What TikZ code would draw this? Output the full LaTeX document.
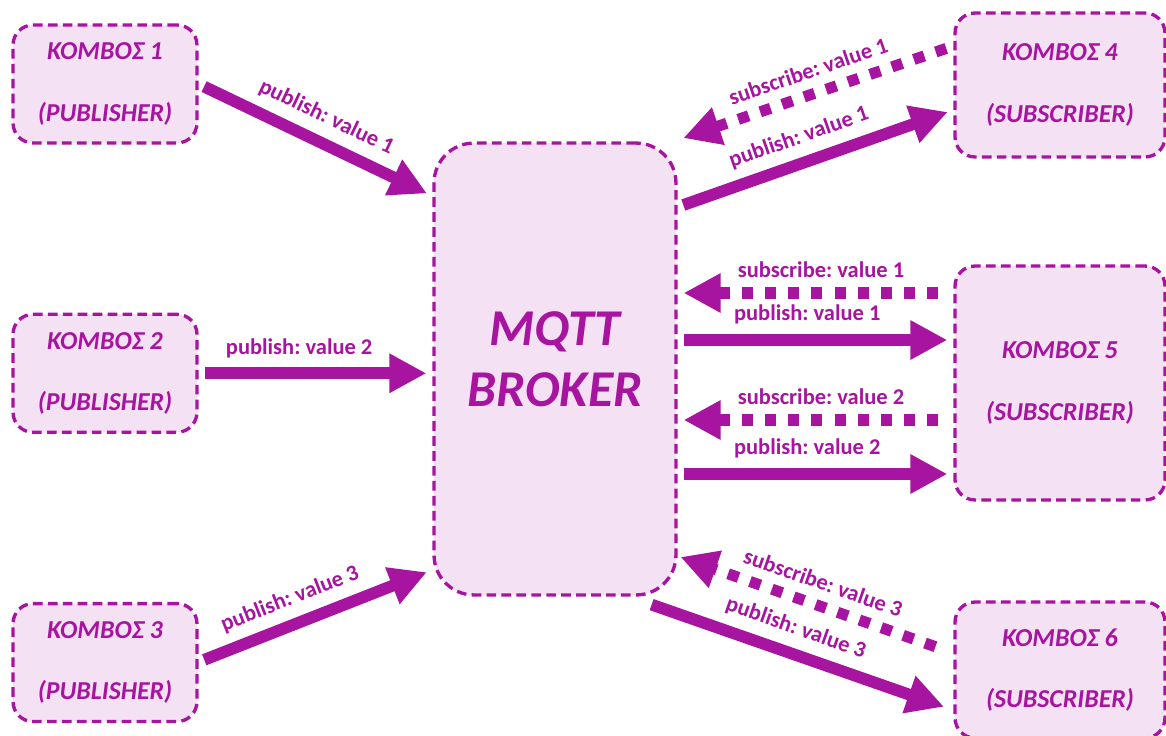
\documentclass[tikz,border=0pt]{standalone}
\usepackage{fontspec}
\setmainfont{Carlito}
\frenchspacing
\usetikzlibrary{arrows.meta,positioning}
\definecolor{mqpurple}{RGB}{167,20,160}
\definecolor{mqfill}{RGB}{245,225,244}
\tikzset{
    knot/.style={rectangle, rounded corners=0.4cm, draw=mqpurple, fill=mqfill,
        line width=1.9pt, dash pattern=on 5.5pt off 3pt, align=center,
        text=mqpurple, font=\bfseries\itshape\fontsize{14.7}{17}\selectfont,
        minimum width=3.68cm, minimum height=2.36cm},
    broker/.style={knot, rounded corners=0.8cm, minimum width=4.84cm, minimum height=9.04cm},
    brokertext/.style={align=center, text=mqpurple,
        font=\bfseries\itshape\fontsize{29.4}{35}\selectfont},
    pub/.style={draw=mqpurple, line width=6.7pt, -{Triangle[length=0.74cm,width=0.74cm]},
        shorten <=0.12cm, shorten >=0.12cm},
    sub/.style={pub, line width=6.3pt, dash pattern=on 6.3pt off 6.9pt, shorten <=0.3cm},
    lbl/.style={sloped, above=3.5pt, inner sep=2pt, text=mqpurple,
        font=\bfseries\fontsize{12.8}{15}\selectfont}
}
\begin{document}
\begin{tikzpicture}[x=0.02cm,y=-0.02cm]
    \useasboundingbox (0,0) rectangle (1166,735);

    % publishers on the left, broker in the middle, subscribers on the right
    \node[knot] (k1) at (105,84) {ΚΟΜΒΟΣ 1\\[18pt](PUBLISHER)};
    \node[knot, below=3.36cm of k1] (k2) {ΚΟΜΒΟΣ 2\\[18pt](PUBLISHER)};
    \node[knot, below=3.36cm of k2] (k3) {ΚΟΜΒΟΣ 3\\[18pt](PUBLISHER)};
    \node[broker] (mqtt) at (555,369) {};
    \node[brokertext] (mqtttext) at ([yshift=0.2cm]mqtt.center) {MQTT\\BROKER};
    \node[knot, minimum width=4.2cm, minimum height=2.88cm] (k4) at (1060,85) {ΚΟΜΒΟΣ 4\\[18pt](SUBSCRIBER)};
    \node[knot, minimum width=4.2cm, minimum height=4.68cm] (k5) at (1060,383) {ΚΟΜΒΟΣ 5\\[18pt](SUBSCRIBER)};
    \node[knot, minimum width=4.2cm, minimum height=2.72cm] (k6) at (1060,670) {ΚΟΜΒΟΣ 6\\[18pt](SUBSCRIBER)};

    % publish towards the broker
    \draw[pub] (k1.east) -- (mqtt.west |- 0,196) node[lbl, pos=0.5] {publish: value 1};
    \draw[pub] (k2.east) -- (mqtt.west |- k2.east) node[lbl, pos=0.43] {publish: value 2};
    \draw[pub] (k3.east |- 0,662) -- (mqtt.west |- 0,570) node[lbl, pos=0.43] {publish: value 3};

    % node 4
    \draw[sub, shorten <=0.15cm] (k4.west |- 0,46) -- (mqtt.east |- 0,140) node[lbl, pos=0.5] {subscribe: value 1};
    \draw[pub] (mqtt.east |- 0,207) -- (k4.west |- 0,110) node[lbl, pos=0.47] {publish: value 1};

    % node 5
    \draw[sub] (k5.west |- 0,293) -- (mqtt.east |- 0,293) node[lbl, pos=0.48] {subscribe: value 1};
    \draw[pub] (mqtt.east |- 0,340) -- (k5.west |- 0,340) node[lbl, pos=0.47] {publish: value 1};
    \draw[sub] (k5.west |- 0,420) -- (mqtt.east |- 0,420) node[lbl, pos=0.48] {subscribe: value 2};
    \draw[pub] (mqtt.east |- 0,474) -- (k5.west |- 0,474) node[lbl, pos=0.47] {publish: value 2};

    % node 6
    \draw[sub, shorten <=0.38cm, shorten >=0.06cm] (k6.west |- 0,653) -- (mqtt.east |- 0,556) node[lbl, pos=0.5] {subscribe: value 3};
    \draw[pub, shorten <=0cm, shorten >=0.2cm] ([shift={(-26,8)}]mqtt.south east) -- (k6.west |- 0,710) node[lbl, pos=0.45] {publish: value 3};
\end{tikzpicture}
\end{document}
